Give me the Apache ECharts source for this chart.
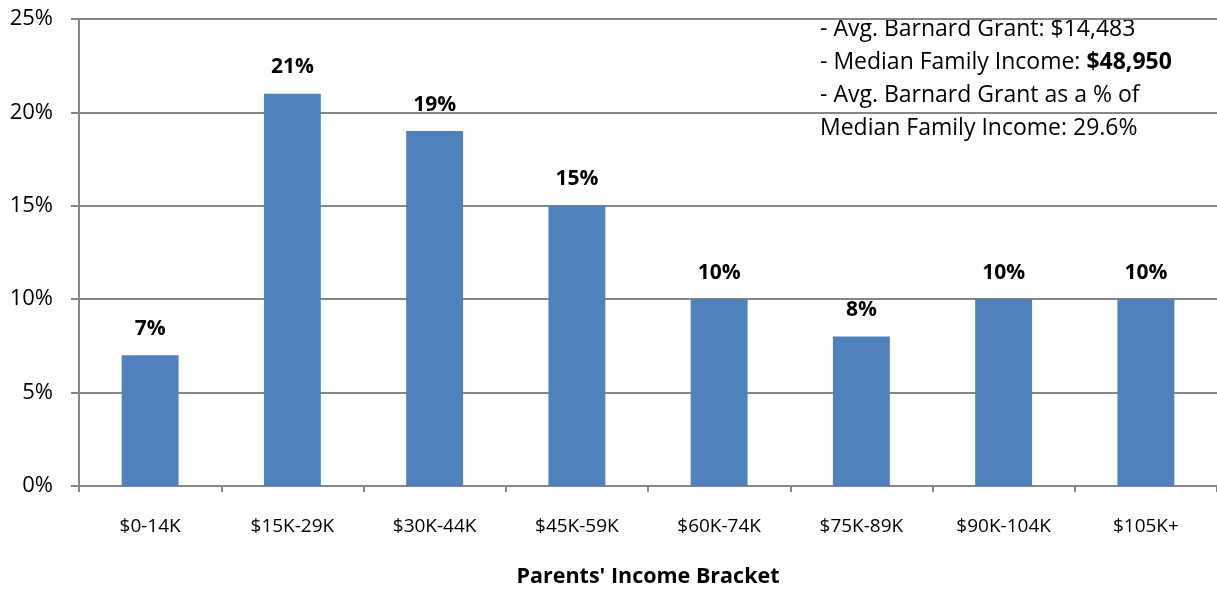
<!DOCTYPE html>
<html>
<head>
<meta charset="utf-8">
<script src="https://cdn.jsdelivr.net/npm/echarts@6/dist/echarts.min.js"></script>
<style>html,body{margin:0;padding:0;background:#fff;}#c{width:1217px;height:589px;}</style>
</head>
<body>
<div id="c"></div>
<script>
const categories = ['$0-14K','$15K-29K','$30K-44K','$45K-59K','$60K-74K','$75K-89K','$90K-104K','$105K+'];
const values = [7, 21, 19, 15, 10, 8, 10, 10];
const yTicks = [0, 5, 10, 15, 20, 25];
const noteLines = ['- Avg. Barnard Grant: $14,483', '- Median Family Income: ', '$48,950', '- Avg. Barnard Grant as a % of', 'Median Family Income: 29.6%'];

const FONT = '"Open Sans", "Noto Sans", sans-serif';
const chart = echarts.init(document.getElementById('c'));
chart.setOption({
  animation: false,
  backgroundColor: '#fff',
  grid: {left: 79, right: 0, top: 19, bottom: 103, containLabel: false, outerBoundsMode: 'none'},
  xAxis: {
    type: 'category',
    data: categories,
    axisLine: {lineStyle: {color: '#868686', width: 2}},
    axisTick: {show: true, length: 6, lineStyle: {color: '#868686', width: 2}},
    axisLabel: {color: '#000', fontSize: 19, fontFamily: FONT, margin: 31},
    name: "Parents' Income Bracket",
    nameLocation: 'middle',
    nameGap: 80,
    nameTextStyle: {color: '#000', fontSize: 21.5, fontWeight: 'bold', fontFamily: FONT}
  },
  yAxis: {
    type: 'value',
    min: yTicks[0],
    max: yTicks[yTicks.length - 1],
    interval: 5,
    axisLine: {show: true, lineStyle: {color: '#868686', width: 2}},
    axisTick: {show: true, length: 8, lineStyle: {color: '#868686', width: 2}},
    splitLine: {lineStyle: {color: '#868686', width: 2}},
    axisLabel: {color: '#000', fontSize: 22, fontFamily: FONT, margin: 26, formatter: v => v + '%'}
  },
  series: [{
    type: 'bar',
    data: values,
    barCategoryGap: '60%',
    itemStyle: {color: '#4F81BD'},
    label: {
      show: true,
      position: 'top',
      distance: 16,
      formatter: p => p.value + '%',
      color: '#000',
      fontSize: 21,
      fontWeight: 'bold',
      fontFamily: FONT
    }
  }],
  graphic: [
    {type: 'text', left: 820, top: 18, style: {text: noteLines[0], font: '23px ' + FONT, fill: '#000'}},
    {type: 'text', left: 820, top: 51, style: {
      text: '{n|' + noteLines[1] + '}{b|' + noteLines[2] + '}',
      rich: {
        n: {fontSize: 23, fontFamily: FONT, fill: '#000', color: '#000'},
        b: {fontSize: 23, fontFamily: FONT, fontWeight: 'bold', fill: '#000', color: '#000'}
      }
    }},
    {type: 'text', left: 820, top: 84, style: {text: noteLines[3], font: '23px ' + FONT, fill: '#000'}},
    {type: 'text', left: 820, top: 117, style: {text: noteLines[4], font: '23px ' + FONT, fill: '#000'}}
  ]
});
</script>
</body>
</html>
